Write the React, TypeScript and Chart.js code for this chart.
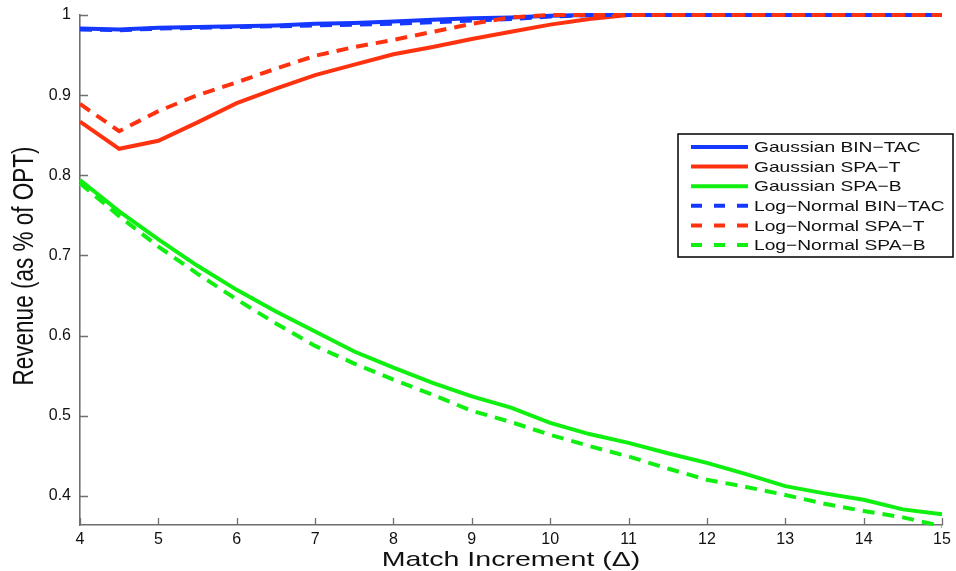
import React, { useEffect, useRef } from "react";
import { Chart, registerables } from "chart.js";

Chart.register(...registerables);

const xValues = [4, 4.5, 5, 5.5, 6, 6.5, 7, 7.5, 8, 8.5, 9, 9.5, 10, 10.5, 11, 11.5, 12, 12.5, 13, 13.5, 14, 14.5, 15];

const gaussianBinTac = [0.983, 0.982, 0.984, 0.985, 0.986, 0.987, 0.989, 0.99, 0.992, 0.994, 0.996, 0.997, 0.999, 1, 1, 1, 1, 1, 1, 1, 1, 1, 1];
const gaussianSpaT = [0.867, 0.833, 0.843, 0.866, 0.89, 0.908, 0.925, 0.938, 0.951, 0.96, 0.97, 0.979, 0.988, 0.995, 1, 1, 1, 1, 1, 1, 1, 1, 1];
const gaussianSpaB = [0.794, 0.755, 0.72, 0.687, 0.657, 0.63, 0.605, 0.58, 0.56, 0.541, 0.524, 0.51, 0.491, 0.477, 0.466, 0.453, 0.441, 0.427, 0.412, 0.403, 0.395, 0.383, 0.377];
const logNormalBinTac = [0.982, 0.981, 0.983, 0.984, 0.985, 0.986, 0.987, 0.988, 0.989, 0.991, 0.993, 0.995, 0.998, 1, 1, 1, 1, 1, 1, 1, 1, 1, 1];
const logNormalSpaT = [0.889, 0.855, 0.88, 0.9, 0.916, 0.933, 0.949, 0.96, 0.969, 0.979, 0.989, 0.997, 1, 1, 1, 1, 1, 1, 1, 1, 1, 1, 1];
const logNormalSpaB = [0.79, 0.749, 0.711, 0.677, 0.645, 0.615, 0.587, 0.565, 0.545, 0.526, 0.506, 0.492, 0.476, 0.462, 0.449, 0.434, 0.42, 0.411, 0.401, 0.39, 0.381, 0.373, 0.362];

const seriesLabels = [
  "Gaussian BIN\u2212TAC",
  "Gaussian SPA\u2212T",
  "Gaussian SPA\u2212B",
  "Log\u2212Normal BIN\u2212TAC",
  "Log\u2212Normal SPA\u2212T",
  "Log\u2212Normal SPA\u2212B",
];
const seriesValues = [gaussianBinTac, gaussianSpaT, gaussianSpaB, logNormalBinTac, logNormalSpaT, logNormalSpaB];
const seriesColors = ["#1438ff", "#ff3210", "#10f010", "#1438ff", "#ff3210", "#10f010"];
const seriesDashed = [false, false, false, true, true, true];

const xTicks = [4, 5, 6, 7, 8, 9, 10, 11, 12, 13, 14, 15];
const yTicks = [0.4, 0.5, 0.6, 0.7, 0.8, 0.9, 1];
const yTickLabels = ["0.4", "0.5", "0.6", "0.7", "0.8", "0.9", "1"];

const xTitle = "Match Increment (\u0394)";
const yTitle = "Revenue (as % of OPT)";

const FONT = "'Liberation Sans', Arial, Helvetica, sans-serif";
const AXIS_COLOR = "#6f6f6f";
const DASH = [12, 8];

const decorPlugin = {
  id: "decor",
  afterDraw(chart: any) {
    const ctx = chart.ctx as CanvasRenderingContext2D;
    const area = chart.chartArea;
    const xs = chart.scales.x;
    const ys = chart.scales.y;

    // inward tick marks
    ctx.save();
    ctx.strokeStyle = AXIS_COLOR;
    ctx.lineWidth = 1.3;
    ctx.beginPath();
    yTicks.forEach((v) => {
      const py = Math.round(ys.getPixelForValue(v)) + 0.5;
      ctx.moveTo(area.left, py);
      ctx.lineTo(area.left + 8, py);
    });
    xTicks.forEach((v) => {
      const px = Math.round(xs.getPixelForValue(v)) + 0.5;
      ctx.moveTo(px, area.bottom);
      ctx.lineTo(px, area.bottom - 7);
    });
    ctx.stroke();
    ctx.restore();

    // axis titles (horizontally stretched like the reference)
    ctx.save();
    ctx.fillStyle = "#111";
    ctx.font = `21px ${FONT}`;
    ctx.textAlign = "center";
    ctx.textBaseline = "alphabetic";
    ctx.translate((area.left + area.right) / 2, 566);
    ctx.scale(1.36, 1);
    ctx.fillText(xTitle, 0, 0);
    ctx.restore();

    ctx.save();
    ctx.fillStyle = "#111";
    ctx.font = `22.5px ${FONT}`;
    ctx.textAlign = "center";
    ctx.textBaseline = "alphabetic";
    ctx.translate(33, 266);
    ctx.scale(1.3, 1);
    ctx.rotate(-Math.PI / 2);
    ctx.fillText(yTitle, 0, 0);
    ctx.restore();

    // legend box
    const bx = area.right - 264;
    const by = area.top + 119;
    const bw = 275;
    const bh = 123;
    ctx.save();
    ctx.fillStyle = "#ffffff";
    ctx.fillRect(bx, by, bw, bh);
    ctx.strokeStyle = "#000";
    ctx.lineWidth = 1.5;
    ctx.strokeRect(bx, by, bw, bh);
    seriesLabels.forEach((label, i) => {
      const cy = by + 13 + i * 19.6;
      ctx.save();
      ctx.strokeStyle = seriesColors[i];
      ctx.lineWidth = 4;
      ctx.setLineDash(seriesDashed[i] ? [11, 12] : []);
      ctx.beginPath();
      ctx.moveTo(bx + 13, cy);
      ctx.lineTo(bx + 70, cy);
      ctx.stroke();
      ctx.restore();
      ctx.save();
      ctx.fillStyle = "#111";
      ctx.font = `15px ${FONT}`;
      ctx.textAlign = "left";
      ctx.textBaseline = "middle";
      ctx.translate(bx + 76, cy + 1);
      ctx.scale(1.28, 1);
      ctx.fillText(label, 0, 0);
      ctx.restore();
    });
    ctx.restore();
  },
};

export default function App() {
  const canvasRef = useRef<HTMLCanvasElement | null>(null);

  useEffect(() => {
    document.body.style.margin = "0";
    const canvas = canvasRef.current;
    if (!canvas) return;
    const datasets = seriesLabels.map((label, i) => ({
      label,
      data: xValues.map((x, j) => ({ x, y: seriesValues[i][j] })),
      borderColor: seriesColors[i],
      backgroundColor: seriesColors[i],
      borderWidth: 4,
      borderDash: seriesDashed[i] ? DASH : [],
      pointRadius: 0,
      tension: 0,
      fill: false,
      clip: 3,
      order: 5 - i,
    }));
    const chart = new Chart(canvas, {
      type: "line",
      data: { datasets },
      options: {
        animation: false,
        responsive: false,
        devicePixelRatio: 1,
        layout: { padding: { top: 15, right: 14, left: 0, bottom: 0 } },
        plugins: { legend: { display: false }, tooltip: { enabled: false } },
        scales: {
          x: {
            type: "linear",
            min: 4,
            max: 15,
            afterBuildTicks: (scale: any) => {
              scale.ticks = xTicks.map((v) => ({ value: v }));
            },
            afterFit: (scale: any) => {
              scale.height = 46;
              scale.paddingLeft = 0;
              scale.paddingRight = 0;
            },
            grid: { display: false, drawTicks: false },
            border: { display: true, color: AXIS_COLOR, width: 1.6 },
            ticks: {
              padding: 5,
              color: "#111",
              font: { family: FONT, size: 16 },
              maxRotation: 0,
              autoSkip: false,
              callback: (v: any) => String(v),
            },
          },
          y: {
            type: "linear",
            min: 0.3635,
            max: 1,
            afterBuildTicks: (scale: any) => {
              scale.ticks = yTicks.map((v) => ({ value: v }));
            },
            afterFit: (scale: any) => {
              scale.width = 80;
              scale.paddingTop = 0;
              scale.paddingBottom = 0;
            },
            grid: { display: false, drawTicks: false },
            border: { display: true, color: AXIS_COLOR, width: 1.6 },
            ticks: {
              padding: 9,
              color: "#111",
              font: { family: FONT, size: 16 },
              autoSkip: false,
              callback: (v: any) => {
                const idx = yTicks.findIndex((t) => Math.abs(t - v) < 1e-6);
                return idx >= 0 ? yTickLabels[idx] : "";
              },
            },
          },
        },
      },
      plugins: [decorPlugin],
    } as any);
    return () => chart.destroy();
  }, []);

  return (
    <div style={{ width: 956, height: 571, background: "#fff" }}>
      <canvas ref={canvasRef} width={956} height={571} />
    </div>
  );
}
